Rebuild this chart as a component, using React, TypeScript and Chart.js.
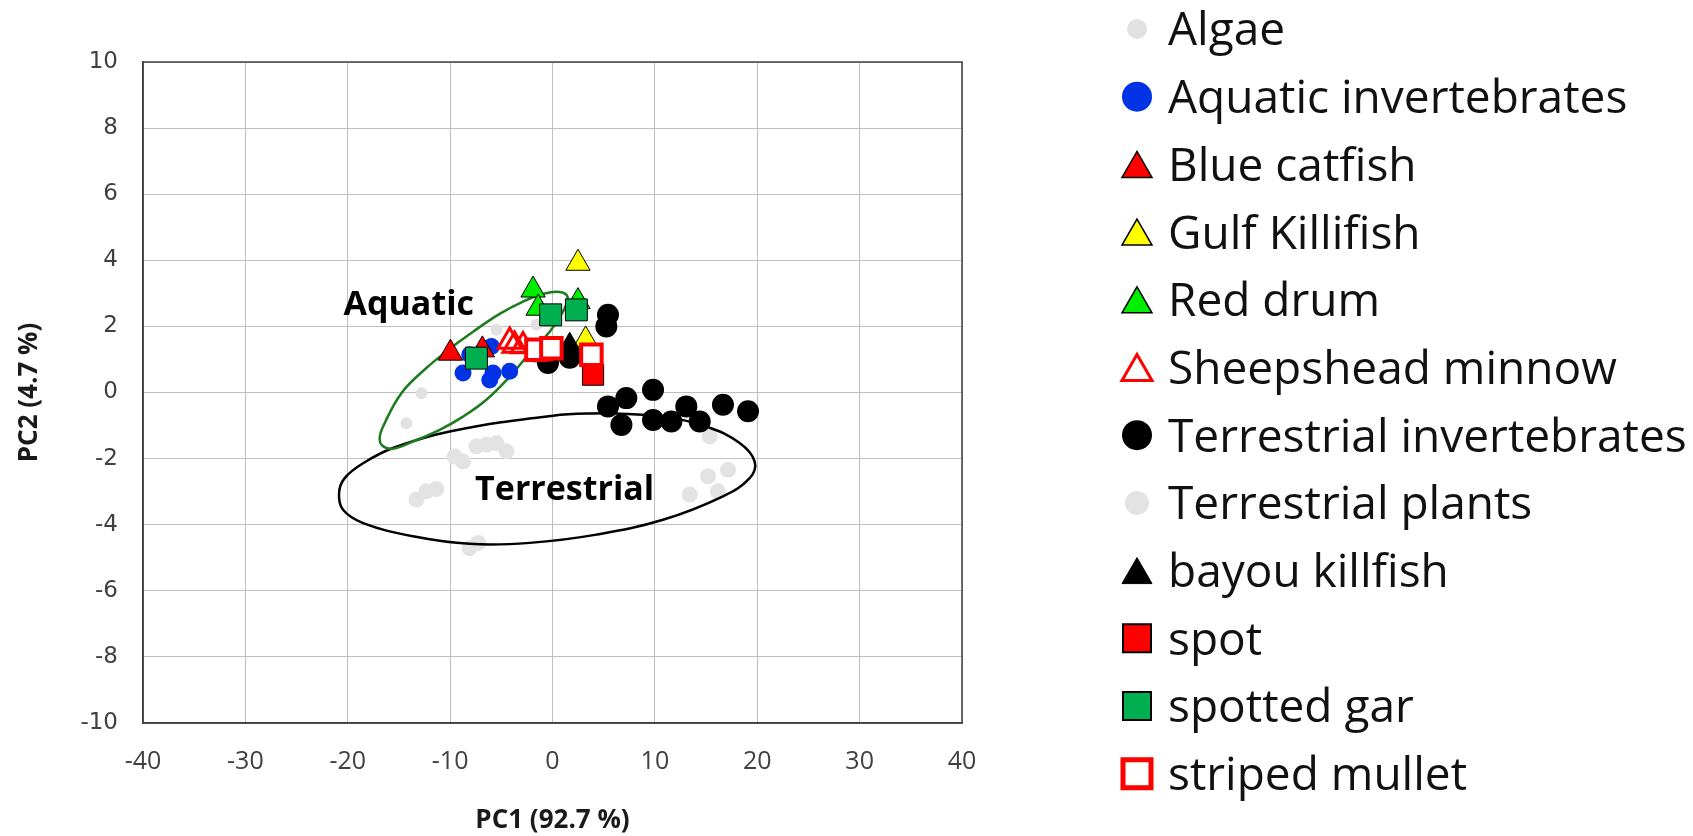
import React, { useEffect, useRef } from "react";
import { Chart, registerables } from "chart.js";

Chart.register(...registerables);

// ---------- axes ----------
const xMin = -40;
const xMax = 40;
const xStep = 10;
const yMin = -10;
const yMax = 10;
const yStep = 2;
const xAxisTitle = "PC1 (92.7 %)";
const yAxisTitle = "PC2 (4.7 %)";

// ---------- series (PC1, PC2) ----------
const algaeX = [-12.8, -14.27, -5.48, -1.57];
const algaeY = [-0.02, -0.93, 1.9, 2.05];

const aquaticInvX = [-8.74, -8.09, -5.97, -5.81, -6.13, -4.18];
const aquaticInvY = [0.59, 1.14, 1.39, 0.59, 0.38, 0.64];

const blueCatfishX = [-9.97, -6.85];
const blueCatfishY = [1.19, 1.29];

const gulfKillifishX = [2.49, 3.24];
const gulfKillifishY = [3.91, 1.59];

const redDrumX = [-1.9, -1.41, 2.49];
const redDrumY = [3.1, 2.55, 2.75];

const sheepsheadX = [-4.18, -3.7, -2.88];
const sheepsheadY = [1.54, 1.42, 1.41];

const terrInvX = [-0.44, 1.68, 5.42, 5.26, 5.42, 7.21, 9.82, 6.73, 9.82, 11.61, 13.07, 14.38, 16.65, 19.1];
const terrInvY = [0.89, 1.05, 2.35, 2.0, -0.42, -0.17, 0.08, -0.98, -0.83, -0.88, -0.42, -0.88, -0.37, -0.57];

const terrPlantsX = [-9.55, -8.74, -7.43, -6.46, -5.48, -4.5, -13.29, -12.32, -11.34, -8.09, -7.27, 15.35, 15.19, 17.14, 13.4, 16.16];
const terrPlantsY = [-1.94, -2.09, -1.63, -1.58, -1.53, -1.78, -3.24, -2.99, -2.92, -4.71, -4.55, -1.33, -2.54, -2.34, -3.09, -2.99];

const bayouX = [1.68];
const bayouY = [1.4];

const spotX = [-0.9, 3.96];
const spotY = [1.25, 0.54];

const spottedGarX = [-0.18, 2.33, -7.43];
const spottedGarY = [2.35, 2.5, 1.04];

const stripedMulletX = [-1.57, -0.11, 3.8];
const stripedMulletY = [1.29, 1.34, 1.14];

// ---------- group ellipses (outline) ----------
const aquaticEllipseX = [-9.97, -7.76, -5.16, -2.88, -0.93, 0.7, 1.48, 1.03, -0.27, -2.23, -4.18, -6.46, -8.74, -11.02, -13.62, -15.58, -16.61, -16.88, -16.55, -14.76, -12.32, -9.97];
const aquaticEllipseY = [1.34, 1.84, 2.38, 2.75, 2.98, 3.04, 2.88, 2.45, 1.84, 1.19, 0.48, -0.22, -0.73, -1.13, -1.48, -1.7, -1.61, -1.38, -1.03, -0.02, 0.74, 1.34];

const terrEllipseX = [5.26, 10.79, 15.03, 18.28, 19.75, 19.26, 16.65, 10.79, 4.29, -2.23, -8.09, -13.62, -18.5, -20.46, -20.85, -20.3, -18.5, -15.58, -10.04, 0.05, 5.26];
const terrEllipseY = [-0.62, -0.73, -1.03, -1.53, -2.09, -2.59, -3.14, -3.85, -4.3, -4.55, -4.58, -4.35, -3.95, -3.55, -3.04, -2.59, -2.14, -1.68, -1.18, -0.7, -0.62];

// ---------- annotation labels ----------
const groupLabels = ["Aquatic", "Terrestrial"];
const groupLabelX = [-14.04, 1.19];
const groupLabelY = [2.7, -2.89];

function pts(xs: number[], ys: number[]) {
  return xs.map((x, i) => ({ x, y: ys[i] }));
}

type Shape = "circle" | "triangle" | "rect";

interface SeriesStyle {
  label: string;
  xs: number[];
  ys: number[];
  shape: Shape;
  r: number;
  fill: string;
  stroke: string;
  bw: number;
  order: number;
  legendSize: number;
  legendBw: number;
}

const series: SeriesStyle[] = [
  { label: "Algae", xs: algaeX, ys: algaeY, shape: "circle", r: 6, fill: "#e1e1e1", stroke: "#e1e1e1", bw: 0, order: 18, legendSize: 20, legendBw: 0 },
  { label: "Aquatic invertebrates", xs: aquaticInvX, ys: aquaticInvY, shape: "circle", r: 8.5, fill: "#0033e6", stroke: "#0033e6", bw: 0, order: 11, legendSize: 30, legendBw: 0 },
  { label: "Blue catfish", xs: blueCatfishX, ys: blueCatfishY, shape: "triangle", r: 14, fill: "#ff0000", stroke: "#000000", bw: 1, order: 9, legendSize: 30, legendBw: 1.5 },
  { label: "Gulf Killifish", xs: gulfKillifishX, ys: gulfKillifishY, shape: "triangle", r: 14, fill: "#ffff00", stroke: "#000000", bw: 1, order: 7, legendSize: 30, legendBw: 1.5 },
  { label: "Red drum", xs: redDrumX, ys: redDrumY, shape: "triangle", r: 14, fill: "#00ee00", stroke: "#000000", bw: 1, order: 8, legendSize: 30, legendBw: 1.5 },
  { label: "Sheepshead minnow", xs: sheepsheadX, ys: sheepsheadY, shape: "triangle", r: 13.5, fill: "rgba(255,255,255,0)", stroke: "#ff0000", bw: 3, order: 6, legendSize: 30, legendBw: 3 },
  { label: "Terrestrial invertebrates", xs: terrInvX, ys: terrInvY, shape: "circle", r: 11, fill: "#000000", stroke: "#000000", bw: 0, order: 10, legendSize: 30, legendBw: 0 },
  { label: "Terrestrial plants", xs: terrPlantsX, ys: terrPlantsY, shape: "circle", r: 8, fill: "#e3e3e3", stroke: "#e3e3e3", bw: 0, order: 19, legendSize: 24, legendBw: 0 },
  { label: "bayou killfish", xs: bayouX, ys: bayouY, shape: "triangle", r: 14, fill: "#000000", stroke: "#000000", bw: 1, order: 4, legendSize: 30, legendBw: 1 },
  { label: "spot", xs: spotX, ys: spotY, shape: "rect", r: 15, fill: "#ff0000", stroke: "#000000", bw: 1, order: 3, legendSize: 28, legendBw: 2 },
  { label: "spotted gar", xs: spottedGarX, ys: spottedGarY, shape: "rect", r: 15.5, fill: "#00b050", stroke: "#000000", bw: 1, order: 5, legendSize: 28, legendBw: 2 },
  { label: "striped mullet", xs: stripedMulletX, ys: stripedMulletY, shape: "rect", r: 14.5, fill: "#ffffff", stroke: "#ff0000", bw: 4, order: 2, legendSize: 28, legendBw: 5 },
];

const legendFont = "46px 'Open Sans'";
const legendFontSize = 46;

function drawMarker(ctx: CanvasRenderingContext2D, s: SeriesStyle, cx: number, cy: number) {
  const size = s.legendSize;
  ctx.save();
  ctx.fillStyle = s.fill;
  ctx.strokeStyle = s.stroke;
  ctx.lineWidth = s.legendBw;
  ctx.lineJoin = "miter";
  ctx.beginPath();
  if (s.shape === "circle") {
    ctx.arc(cx, cy, size / 2, 0, Math.PI * 2);
  } else if (s.shape === "triangle") {
    const h = (size * Math.sqrt(3)) / 2;
    ctx.moveTo(cx, cy - h / 2);
    ctx.lineTo(cx + size / 2, cy + h / 2);
    ctx.lineTo(cx - size / 2, cy + h / 2);
    ctx.closePath();
  } else {
    ctx.rect(cx - size / 2, cy - size / 2, size, size);
  }
  ctx.fill();
  if (s.legendBw > 0) ctx.stroke();
  ctx.restore();
}

const legendPlugin = {
  id: "customLegend",
  afterDraw(chart: any) {
    const ctx: CanvasRenderingContext2D = chart.ctx;
    const markerX = 1137;
    const textX = 1168;
    const firstY = 29;
    const rowStep = 67.7;
    ctx.save();
    ctx.font = legendFont;
    ctx.textAlign = "left";
    ctx.textBaseline = "alphabetic";
    series.forEach((s, i) => {
      const cy = firstY + i * rowStep;
      drawMarker(ctx, s, markerX, cy);
      ctx.fillStyle = "#111111";
      ctx.fillText(s.label, textX, cy + legendFontSize * 0.357);
    });
    ctx.restore();
  },
};

const framePlugin = {
  id: "plotFrame",
  beforeDatasetsDraw(chart: any) {
    const { ctx, chartArea } = chart;
    ctx.save();
    ctx.strokeStyle = "#404040";
    ctx.lineWidth = 1.5;
    ctx.strokeRect(chartArea.left, chartArea.top, chartArea.right - chartArea.left, chartArea.bottom - chartArea.top);
    ctx.restore();
  },
};

const groupLabelPlugin = {
  id: "groupLabels",
  afterDatasetsDraw(chart: any) {
    const { ctx } = chart;
    const xs = chart.scales.x;
    const ys = chart.scales.y;
    ctx.save();
    ctx.font = "bold 34px 'Open Sans'";
    ctx.fillStyle = "#000000";
    ctx.textAlign = "center";
    ctx.textBaseline = "alphabetic";
    groupLabels.forEach((t, i) => {
      ctx.fillText(t, xs.getPixelForValue(groupLabelX[i]), ys.getPixelForValue(groupLabelY[i]) + 34 * 0.357);
    });
    ctx.restore();
  },
};

export default function App() {
  const canvasRef = useRef<HTMLCanvasElement | null>(null);

  useEffect(() => {
    document.body.style.margin = "0";
    document.body.style.overflow = "hidden";
    const canvas = canvasRef.current;
    if (!canvas) return;

    const pointDatasets = series.map((s) => ({
      label: s.label,
      data: pts(s.xs, s.ys),
      pointStyle: s.shape,
      pointRadius: s.r,
      pointBackgroundColor: s.fill,
      pointBorderColor: s.stroke,
      pointBorderWidth: s.bw,
      backgroundColor: s.fill,
      borderColor: s.stroke,
      showLine: false,
      order: s.order,
    }));

    const ellipseDatasets = [
      {
        label: "Aquatic ellipse",
        data: pts(aquaticEllipseX, aquaticEllipseY),
        showLine: true,
        borderColor: "#1d7a1d",
        borderWidth: 2.5,
        pointRadius: 0,
        tension: 0.4,
        fill: false,
        order: 14,
      },
      {
        label: "Terrestrial ellipse",
        data: pts(terrEllipseX, terrEllipseY),
        showLine: true,
        borderColor: "#000000",
        borderWidth: 2.5,
        pointRadius: 0,
        tension: 0.4,
        fill: false,
        order: 15,
      },
    ];

    const chart = new Chart(canvas, {
      type: "scatter",
      data: { datasets: [...pointDatasets, ...ellipseDatasets] as any },
      options: {
        responsive: false,
        animation: false,
        devicePixelRatio: 1,
        layout: { padding: { left: 0, top: 62, right: 731, bottom: 0 } },
        plugins: {
          legend: { display: false },
          tooltip: { enabled: false },
        },
        scales: {
          x: {
            type: "linear",
            min: xMin,
            max: xMax,
            ticks: {
              stepSize: xStep,
              font: { family: "'Open Sans'", size: 25 },
              color: "#404040",
              padding: 24,
            },
            grid: { color: "#bfbfbf", lineWidth: 1, drawTicks: false },
            border: { display: true, color: "#404040", width: 1.5 },
            title: {
              display: true,
              text: xAxisTitle,
              font: { family: "'Open Sans'", size: 26, weight: "bold" },
              color: "#1a1a1a",
              padding: { top: 0, bottom: 0 },
            },
            afterFit: (scale: any) => {
              scale.height = 113;
            },
          },
          y: {
            type: "linear",
            min: yMin,
            max: yMax,
            ticks: {
              stepSize: yStep,
              font: { family: "'DejaVu Sans'", size: 23 },
              color: "#404040",
              padding: 25,
            },
            grid: { color: "#bfbfbf", lineWidth: 1, drawTicks: false },
            border: { display: true, color: "#404040", width: 1.5 },
            title: {
              display: true,
              text: yAxisTitle,
              font: { family: "'Open Sans'", size: 26, weight: "bold" },
              color: "#1a1a1a",
              padding: { top: 14, bottom: 0 },
            },
            afterFit: (scale: any) => {
              scale.width = 143;
            },
          },
        },
      } as any,
      plugins: [framePlugin, groupLabelPlugin, legendPlugin],
    });

    let alive = true;
    if ((document as any).fonts && (document as any).fonts.ready) {
      (document as any).fonts.ready.then(() => {
        if (alive) chart.update();
      });
    }

    return () => {
      alive = false;
      chart.destroy();
    };
  }, []);

  return (
    <div style={{ width: 1693, height: 836, background: "#ffffff" }}>
      <canvas ref={canvasRef} width={1693} height={836} style={{ display: "block" }} />
    </div>
  );
}
